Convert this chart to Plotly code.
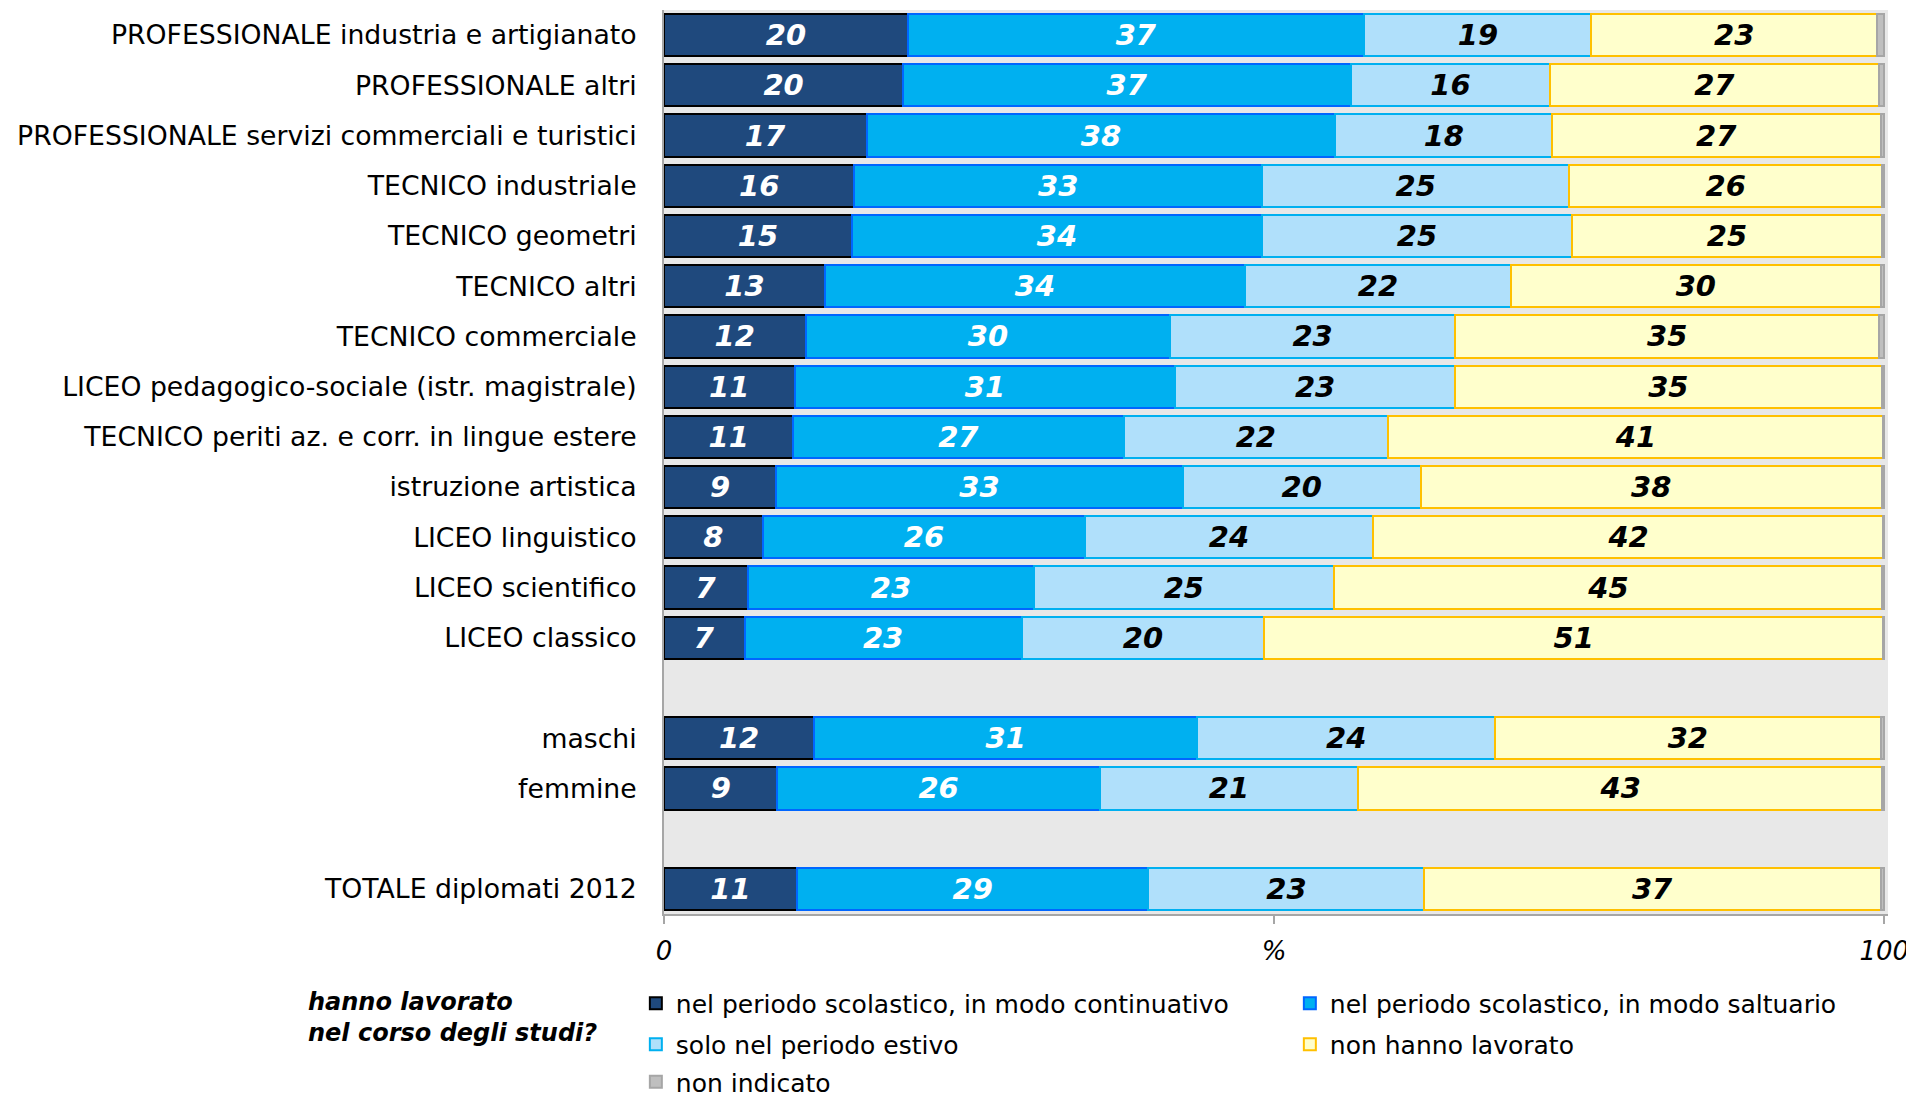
import plotly.graph_objects as go

categories = [
    "PROFESSIONALE industria e artigianato",
    "PROFESSIONALE altri",
    "PROFESSIONALE servizi commerciali e turistici",
    "TECNICO industriale",
    "TECNICO geometri",
    "TECNICO altri",
    "TECNICO commerciale",
    "LICEO pedagogico-sociale (istr. magistrale)",
    "TECNICO periti az. e corr. in lingue estere",
    "istruzione artistica",
    "LICEO linguistico",
    "LICEO scientifico",
    "LICEO classico",
    "maschi",
    "femmine",
    "TOTALE diplomati 2012",
]
axis_order = categories[:13] + [" "] + categories[13:15] + ["  "] + categories[15:]

series_names = [
    "nel periodo scolastico, in modo continuativo",
    "nel periodo scolastico, in modo saltuario",
    "solo nel periodo estivo",
    "non hanno lavorato",
    "non indicato",
]

continuativo = [20.0, 19.6, 16.6, 15.6, 15.4, 13.2, 11.6, 10.7, 10.6, 9.2, 8.1, 6.9, 6.6, 12.3, 9.3, 10.9]
saltuario = [37.4, 36.7, 38.4, 33.4, 33.6, 34.4, 29.9, 31.2, 27.1, 33.3, 26.4, 23.4, 22.7, 31.4, 26.4, 28.8]
estivo = [18.6, 16.3, 17.8, 25.2, 25.4, 21.8, 23.3, 22.9, 21.6, 19.5, 23.6, 24.6, 19.9, 24.4, 21.2, 22.6]
non_lavorato = [23.4, 27.0, 26.9, 25.6, 25.4, 30.3, 34.8, 35.0, 40.6, 37.8, 41.8, 44.9, 50.7, 31.6, 42.9, 37.4]
non_indicato = [0.6, 0.4, 0.3, 0.2, 0.2, 0.3, 0.4, 0.2, 0.1, 0.2, 0.1, 0.2, 0.1, 0.3, 0.2, 0.3]

x_tick_values = [0, 50, 100]
x_tick_labels = ["0", "%", "100"]

values = [continuativo, saltuario, estivo, non_lavorato, non_indicato]
fills = ["#1f497d", "#00b0f0", "#b0e0fb", "#ffffcc", "#bfbfbf"]
borders = ["#000000", "#0066ff", "#00b0f0", "#ffc000", "#a6a6a6"]
text_colors = ["#ffffff", "#ffffff", "#000000", "#000000", "#000000"]
legend_ids = ["legend", "legend", "legend2", "legend2", "legend3"]

FONT = "Verdana, DejaVu Sans, sans-serif"

fig = go.Figure()
for i, name in enumerate(series_names):
    fig.add_trace(go.Bar(
        y=categories,
        x=values[i],
        name=name,
        orientation="h",
        width=0.84,
        marker=dict(color=fills[i], line=dict(color=borders[i], width=2)),
        texttemplate="%{x:.0f}" if i < 4 else "",
        textposition="inside" if i < 4 else "none",
        insidetextanchor="middle",
        textangle=0,
        textfont=dict(family=FONT, size=29, color=text_colors[i],
                      weight="bold", style="italic"),
        legend=legend_ids[i],
        hoverinfo="x+name",
    ))

legend_common = dict(orientation="h", x=-0.023, xanchor="left", yanchor="top",
                     entrywidth=609, entrywidthmode="pixels", traceorder="normal",
                     font=dict(family=FONT, size=25, color="#000000"),
                     bgcolor="rgba(0,0,0,0)")

fig.update_layout(
    width=1906,
    height=1092,
    barmode="stack",
    paper_bgcolor="#ffffff",
    plot_bgcolor="#e8e8e8",
    margin=dict(l=656, r=26, t=2, b=186, autoexpand=False),
    font=dict(family=FONT, color="#000000"),
    xaxis=dict(
        range=[0, 100.3],
        tickvals=x_tick_values,
        ticktext=x_tick_labels,
        tickfont=dict(family=FONT, size=26, style="italic", color="#000000"),
        ticks="outside",
        ticklen=8,
        tickwidth=2,
        tickcolor="#a6a6a6",
        ticklabelstandoff=5,
        showgrid=False,
        zeroline=False,
        showline=True,
        linecolor="#a6a6a6",
        linewidth=2,
    ),
    yaxis=dict(
        type="category",
        categoryorder="array",
        categoryarray=axis_order,
        range=[len(axis_order) - 0.5, -0.5],
        tickfont=dict(family=FONT, size=26.7, color="#000000"),
        ticks="",
        ticklabelstandoff=20,
        showgrid=False,
        zeroline=False,
        showline=True,
        linecolor="#a6a6a6",
        linewidth=2,
    ),
    legend=dict(legend_common, y=-0.0736),
    legend2=dict(legend_common, y=-0.1190),
    legend3=dict(legend_common, y=-0.1604),
    annotations=[
        dict(
            text="<b><i>hanno lavorato<br>nel corso degli studi?</i></b>",
            xref="paper", yref="paper", x=-0.2925, y=-0.1145,
            xanchor="left", yanchor="middle", align="left", showarrow=False,
            font=dict(family=FONT, size=24, color="#000000"),
        ),
    ],
)

fig.write_html("out.html")
